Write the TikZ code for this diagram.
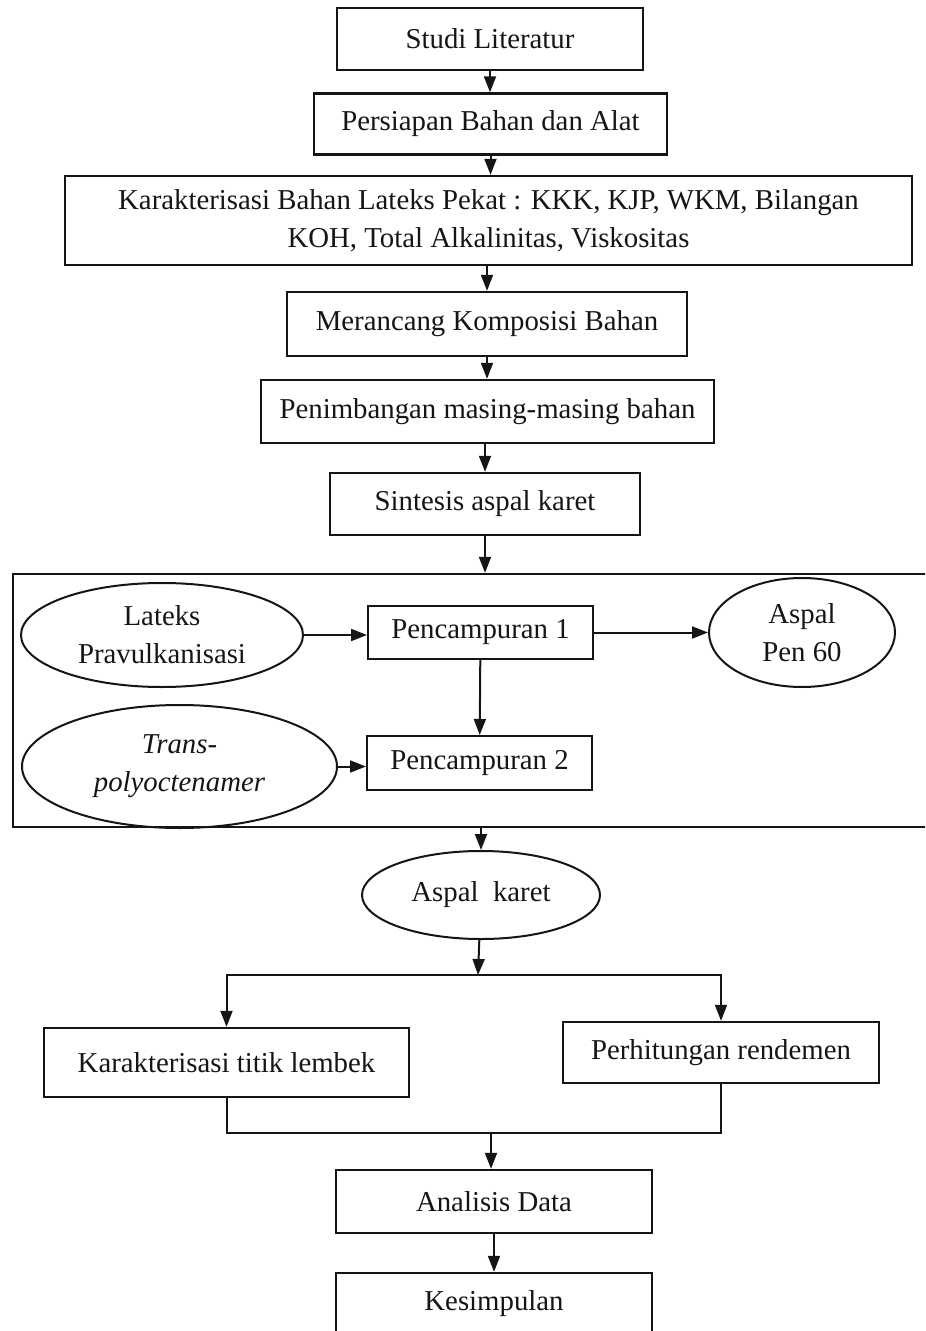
\documentclass[tikz,border=0pt]{standalone}
\usepackage{fontspec}
\setmainfont{Liberation Serif}
\usepackage{xcolor}
\definecolor{InkBlack}{HTML}{151515}
\usepackage{tikz}
\usetikzlibrary{shapes.geometric, arrows.meta}

\begin{document}
\begin{tikzpicture}[x=0.5pt, y=-0.5pt,
    every node/.style={font=\fontsize{14.4}{19}\selectfont, text=InkBlack},
    box/.style={draw=InkBlack, line width=1.2pt, inner sep=0pt, align=center},
    oval/.style={draw=InkBlack, ellipse, line width=1pt, inner sep=0pt, align=center},
    arrow/.style={-{Triangle[length=8pt, width=6pt]}, line width=1pt, draw=InkBlack},
    link/.style={line width=1pt, draw=InkBlack}]
  \useasboundingbox (0,0) rectangle (925,1331);
  \clip (0,0) rectangle (925,1331);

  % Tahap persiapan
  \node[box, minimum width=153pt, minimum height=31pt] (studi) at (490,39) {Studi Literatur};
  \node[box, minimum width=176.5pt, minimum height=30.5pt] (persiapan) at (490.5,124) {Persiapan Bahan dan Alat};
  \node[box, minimum width=423.5pt, minimum height=44.5pt] (karak) at (488.5,220.5)
    {Karakterisasi Bahan Lateks Pekat : KKK, KJP, WKM, Bilangan\\KOH, Total Alkalinitas, Viskositas};
  \node[box, minimum width=200pt, minimum height=32pt] (merancang) at (487,324) {Merancang Komposisi Bahan};
  \node[box, minimum width=226.5pt, minimum height=31.5pt] (penimbangan) at (487.5,411.5) {Penimbangan masing-masing bahan};
  \node[box, minimum width=155pt, minimum height=31pt] (sintesis) at (485,504) {Sintesis aspal karet};

  \draw[arrow] (studi) -- (studi |- persiapan.north);
  \draw[arrow] (persiapan) -- (persiapan |- karak.north);
  \draw[arrow] (karak.south -| merancang) -- (merancang.north);
  \draw[arrow] (merancang) -- (merancang |- penimbangan.north);
  \draw[arrow] (penimbangan.south -| sintesis) -- (sintesis.north);

  % Pencampuran
  \node[draw=InkBlack, line width=1.2pt, inner sep=0pt, minimum width=461pt, minimum height=126.5pt] (campur) at (474,700.5) {};
  \node[oval, minimum width=141pt, minimum height=52pt] (lateks) at (162,635) {Lateks\\Pravulkanisasi};
  \node[box, line width=1pt, minimum width=112.5pt, minimum height=26.5pt] (pc1) at (480.5,632.5) {Pencampuran 1};
  \node[oval, minimum width=93pt, minimum height=54.5pt] (pen60) at (802,632.5) {Aspal\\Pen 60};
  \node[box, line width=1pt, minimum width=112.5pt, minimum height=27pt] (pc2) at (479.5,763) {Pencampuran 2};
  \node[oval, minimum width=157.5pt, minimum height=61.5pt] (trans) at (179.5,766.5) {\textit{Trans-}\\\textit{polyoctenamer}};

  \draw[arrow] (sintesis) -- (sintesis |- campur.north);
  \draw[arrow] (lateks) -- (lateks -| pc1.west);
  \draw[arrow] (pc1) -- (pen60);
  \draw[arrow] (pc1) -- (pc2);
  \draw[arrow] (trans.east) -- (trans.east -| pc2.west);

  % Hasil dan analisis
  \node[oval, minimum width=119pt, minimum height=44pt] (aspalkaret) at (481,895) {Aspal\ \ karet};
  \node[box, minimum width=182.5pt, minimum height=34.5pt] (titik) at (226.5,1062.5) {Karakterisasi titik lembek};
  \node[box, minimum width=158pt, minimum height=30.5pt] (rendemen) at (721,1052.5) {Perhitungan rendemen};
  \node[box, minimum width=158pt, minimum height=31.5pt] (analisis) at (494,1201.5) {Analisis Data};
  \node[box, minimum width=158pt, minimum height=31pt] (kesimpulan) at (494,1304) {Kesimpulan};

  \coordinate (cabang) at (478,975);
  \coordinate (gabung) at (491,1133);
  \draw[arrow] (campur.south -| aspalkaret) -- (aspalkaret);
  \draw[arrow] (aspalkaret) -- (cabang);
  \draw[arrow] (cabang) -| (titik.north);
  \draw[arrow] (cabang) -| (rendemen.north);
  \draw[link] (titik.south) |- (gabung);
  \draw[link] (rendemen.south) |- (gabung);
  \draw[arrow] (gabung) -- (gabung |- analisis.north);
  \draw[arrow] (analisis) -- (kesimpulan);
\end{tikzpicture}
\end{document}
